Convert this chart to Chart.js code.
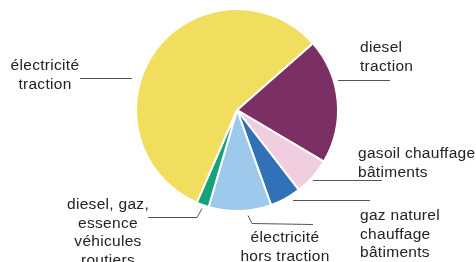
<!DOCTYPE html>
<html>
<head>
<meta charset="utf-8">
<script src="https://cdn.jsdelivr.net/npm/chart.js@4/dist/chart.umd.min.js"></script>
<style>
  html, body { margin: 0; padding: 0; background: #fff; }
  #wrap { width: 476px; height: 262px; position: relative; }
</style>
</head>
<body>
<div id="wrap"><canvas id="pieChart"></canvas></div>
<script>
// Data (clockwise, starting from the top-right boundary)
const categories = [
    ['diesel', 'traction'],
    ['gasoil chauffage', 'bâtiments'],
    ['gaz naturel', 'chauffage', 'bâtiments'],
    ['électricité', 'hors traction'],
    ['diesel, gaz,', 'essence', 'véhicules', 'routiers'],
    ['électricité', 'traction']
];
const shares = [20, 6, 5, 10, 2, 57];
const sliceColors = ['#7b2f62', '#f1cde0', '#3071b8', '#9dc9ec', '#17a37a', '#f2de5e'];

// label placement: text anchor, alignment, leader line points
const labelSpots = [
    { x: 360, y: 48, align: 'left',   line: [[338, 80], [390, 80]] },
    { x: 358, y: 154, align: 'left',  line: [[313, 180], [382, 180]] },
    { x: 360, y: 216, align: 'left',  line: [[293, 200], [370, 200]] },
    { x: 285, y: 238, align: 'center', line: [[248, 215], [252, 223], [313, 224]] },
    { x: 108, y: 205, align: 'center', line: [[148, 217], [197, 217], [202, 208]] },
    { x: 45, y: 66, align: 'center',  line: [[80, 78], [132, 78]] }
];

const ctx = document.getElementById('pieChart').getContext('2d');

// --- LABEL PLUGIN ---
const leaderLabels = {
    id: 'leaderLabels',
    afterDraw(chart) {
        const c = chart.ctx;
        c.save();
        c.strokeStyle = '#555';
        c.lineWidth = 1;
        c.fillStyle = '#222';
        c.font = '15.5px "Liberation Sans", Arial, sans-serif';
        c.letterSpacing = '0.3px';
        c.textBaseline = 'middle';
        labelSpots.forEach((spot, i) => {
            c.beginPath();
            spot.line.forEach((p, j) => j ? c.lineTo(p[0], p[1] + 0.5) : c.moveTo(p[0], p[1] + 0.5));
            c.stroke();
            c.textAlign = spot.align;
            categories[i].forEach((txt, k) => c.fillText(txt, spot.x, spot.y + k * 18.5));
        });
        c.restore();
    }
};

new Chart(ctx, {
    type: 'pie',
    data: {
        labels: categories.map(l => l.join(' ')),
        datasets: [{
            data: shares,
            backgroundColor: sliceColors,
            borderColor: '#ffffff',
            borderWidth: 2
        }]
    },
    options: {
        responsive: true,
        maintainAspectRatio: false,
        animation: false,
        rotation: 48.7,
        layout: { padding: { top: 8, bottom: 50, left: 0, right: 2 } },
        plugins: { legend: { display: false }, tooltip: { enabled: false } }
    },
    plugins: [leaderLabels]
});
</script>
</body>
</html>
